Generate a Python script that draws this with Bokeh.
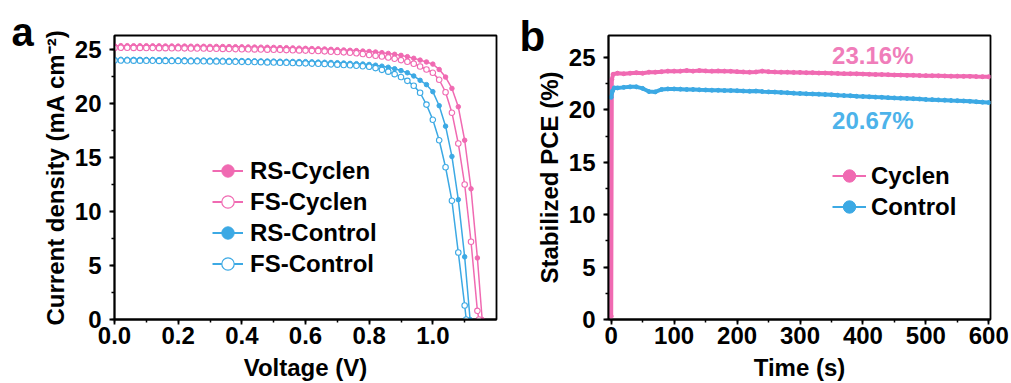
from bokeh.plotting import figure
from bokeh.models import (Range1d, SingleIntervalTicker, Label, Legend, LegendItem,
                          NumeralTickFormatter, Title)
from bokeh.layouts import row
from bokeh.embed import file_html
from bokeh.resources import INLINE

# ---------------- data: panel a (J-V curves) ----------------
v_rs_cyclen = [0.00, 0.02, 0.04, 0.06, 0.08, 0.10, 0.12, 0.14, 0.16, 0.18, 0.20, 0.22, 0.24, 0.26, 0.28,
               0.30, 0.32, 0.34, 0.36, 0.38, 0.40, 0.42, 0.44, 0.46, 0.48, 0.50, 0.52, 0.54, 0.56, 0.58,
               0.60, 0.62, 0.64, 0.66, 0.68, 0.70, 0.72, 0.74, 0.76, 0.78, 0.80, 0.82, 0.84, 0.86, 0.88,
               0.90, 0.92, 0.94, 0.96, 0.98, 1.00, 1.02, 1.04, 1.06, 1.08, 1.10, 1.12, 1.14, 1.155]
j_rs_cyclen = [25.35, 25.36, 25.36, 25.35, 25.35, 25.35, 25.34, 25.34, 25.33, 25.33, 25.32, 25.32, 25.31, 25.30, 25.30,
               25.29, 25.29, 25.28, 25.27, 25.26, 25.25, 25.24, 25.23, 25.22, 25.21, 25.20, 25.18, 25.17, 25.15, 25.13,
               25.11, 25.09, 25.07, 25.05, 25.02, 24.99, 24.96, 24.93, 24.90, 24.86, 24.82, 24.77, 24.71, 24.64, 24.56,
               24.46, 24.34, 24.19, 24.02, 23.85, 23.65, 23.15, 22.45, 21.40, 19.70, 16.60, 12.10, 5.70, 0.00]

v_fs_cyclen = [0.00, 0.02, 0.04, 0.06, 0.08, 0.10, 0.12, 0.14, 0.16, 0.18, 0.20, 0.22, 0.24, 0.26, 0.28,
               0.30, 0.32, 0.34, 0.36, 0.38, 0.40, 0.42, 0.44, 0.46, 0.48, 0.50, 0.52, 0.54, 0.56, 0.58,
               0.60, 0.62, 0.64, 0.66, 0.68, 0.70, 0.72, 0.74, 0.76, 0.78, 0.80, 0.82, 0.84, 0.86, 0.88,
               0.90, 0.92, 0.94, 0.96, 0.98, 1.00, 1.02, 1.04, 1.06, 1.08, 1.10, 1.12, 1.14, 1.145]
j_fs_cyclen = [25.15, 25.16, 25.16, 25.15, 25.15, 25.14, 25.14, 25.13, 25.13, 25.12, 25.12, 25.11, 25.10, 25.10, 25.09,
               25.08, 25.07, 25.06, 25.05, 25.04, 25.03, 25.02, 25.01, 25.00, 24.99, 24.98, 24.97, 24.95, 24.94, 24.92,
               24.90, 24.88, 24.86, 24.83, 24.80, 24.77, 24.74, 24.70, 24.65, 24.58, 24.50, 24.43, 24.35, 24.26, 24.15,
               24.02, 23.87, 23.68, 23.43, 23.15, 22.85, 22.20, 21.05, 19.15, 16.30, 12.50, 7.20, 0.80, 0.00]

v_rs_control = [0.00, 0.02, 0.04, 0.06, 0.08, 0.10, 0.12, 0.14, 0.16, 0.18, 0.20, 0.22, 0.24, 0.26, 0.28,
                0.30, 0.32, 0.34, 0.36, 0.38, 0.40, 0.42, 0.44, 0.46, 0.48, 0.50, 0.52, 0.54, 0.56, 0.58,
                0.60, 0.62, 0.64, 0.66, 0.68, 0.70, 0.72, 0.74, 0.76, 0.78, 0.80, 0.82, 0.84, 0.86, 0.88,
                0.90, 0.92, 0.94, 0.96, 0.98, 1.00, 1.02, 1.04, 1.06, 1.08, 1.10, 1.117]
j_rs_control = [24.10, 24.10, 24.10, 24.09, 24.09, 24.08, 24.08, 24.07, 24.07, 24.06, 24.06, 24.05, 24.04, 24.04, 24.03,
                24.02, 24.02, 24.01, 24.00, 23.99, 23.98, 23.97, 23.96, 23.95, 23.94, 23.93, 23.92, 23.91, 23.90, 23.89,
                23.88, 23.86, 23.84, 23.82, 23.80, 23.78, 23.75, 23.72, 23.69, 23.66, 23.62, 23.55, 23.46, 23.36, 23.22,
                23.05, 22.85, 22.55, 22.15, 21.75, 21.10, 19.80, 17.90, 15.10, 11.10, 5.80, 0.00]

v_fs_control = [0.00, 0.02, 0.04, 0.06, 0.08, 0.10, 0.12, 0.14, 0.16, 0.18, 0.20, 0.22, 0.24, 0.26, 0.28,
                0.30, 0.32, 0.34, 0.36, 0.38, 0.40, 0.42, 0.44, 0.46, 0.48, 0.50, 0.52, 0.54, 0.56, 0.58,
                0.60, 0.62, 0.64, 0.66, 0.68, 0.70, 0.72, 0.74, 0.76, 0.78, 0.80, 0.82, 0.84, 0.86, 0.88,
                0.90, 0.92, 0.94, 0.96, 0.98, 1.00, 1.02, 1.04, 1.06, 1.08, 1.10, 1.105]
j_fs_control = [23.98, 23.98, 23.98, 23.97, 23.97, 23.96, 23.96, 23.95, 23.95, 23.94, 23.94, 23.93, 23.92, 23.92, 23.91,
                23.90, 23.90, 23.89, 23.88, 23.87, 23.86, 23.85, 23.84, 23.83, 23.81, 23.80, 23.78, 23.77, 23.75, 23.74,
                23.72, 23.70, 23.68, 23.66, 23.63, 23.60, 23.57, 23.54, 23.50, 23.45, 23.40, 23.28, 23.12, 22.95, 22.72,
                22.45, 22.10, 21.65, 21.00, 19.90, 18.50, 16.60, 14.10, 11.00, 6.20, 1.30, 0.00]

labels_a = ["RS-Cyclen", "FS-Cyclen", "RS-Control", "FS-Control"]

# ---------------- data: panel b (stabilized PCE) ----------------
t_cyclen = [0, 1, 3, 10, 20, 30, 40, 50, 60, 70, 80, 90, 100, 110, 120, 130, 140, 150, 160, 170, 180, 190,
            200, 210, 220, 230, 240, 250, 260, 270, 280, 290, 300, 310, 320, 330, 340, 350, 360, 370, 380,
            390, 400, 410, 420, 430, 440, 450, 460, 470, 480, 490, 500, 510, 520, 530, 540, 550, 560, 570,
            580, 590, 600]
pce_cyclen = [0.3, 22.9, 23.4, 23.5, 23.45, 23.5, 23.55, 23.5, 23.6, 23.6, 23.65, 23.7, 23.7, 23.7, 23.75,
              23.7, 23.75, 23.72, 23.7, 23.72, 23.7, 23.68, 23.65, 23.62, 23.6, 23.62, 23.7, 23.65, 23.62,
              23.6, 23.6, 23.58, 23.58, 23.55, 23.55, 23.52, 23.52, 23.5, 23.48, 23.46, 23.45, 23.44, 23.42,
              23.4, 23.38, 23.37, 23.36, 23.33, 23.32, 23.3, 23.3, 23.28, 23.27, 23.26, 23.25, 23.24, 23.22,
              23.22, 23.2, 23.2, 23.18, 23.17, 23.16]

t_control = [0, 2, 5, 10, 20, 30, 40, 50, 60, 70, 80, 90, 100, 110, 120, 130, 140, 150, 160, 170, 180, 190,
             200, 210, 220, 230, 240, 250, 260, 270, 280, 290, 300, 310, 320, 330, 340, 350, 360, 370, 380,
             390, 400, 410, 420, 430, 440, 450, 460, 470, 480, 490, 500, 510, 520, 530, 540, 550, 560, 570,
             580, 590, 600]
pce_control = [21.2, 21.8, 22.1, 22.1, 22.15, 22.2, 22.2, 22.05, 21.75, 21.72, 21.95, 22.0, 22.0, 21.98, 21.95,
               21.95, 21.92, 21.9, 21.88, 21.87, 21.85, 21.84, 21.83, 21.8, 21.78, 21.8, 21.75, 21.72, 21.7,
               21.67, 21.64, 21.6, 21.57, 21.54, 21.52, 21.5, 21.47, 21.44, 21.4, 21.37, 21.35, 21.3, 21.28,
               21.25, 21.22, 21.2, 21.17, 21.14, 21.12, 21.1, 21.07, 21.04, 21.0, 20.98, 20.95, 20.93, 20.9,
               20.88, 20.85, 20.82, 20.78, 20.74, 20.7]

labels_b = ["Cyclen", "Control"]
final_labels = ["23.16%", "20.67%"]
panel_letters = ["a", "b"]

PINK = "#F06AB2"
BLUE = "#3CA9E4"
FONT = "Liberation Sans"


def style(p, xint, yint):
    p.xaxis[0].ticker = SingleIntervalTicker(interval=xint, num_minor_ticks=2)
    p.yaxis[0].ticker = SingleIntervalTicker(interval=yint, num_minor_ticks=2)
    for ax in (p.xaxis[0], p.yaxis[0]):
        ax.axis_line_width = 1.8
        ax.major_tick_line_width = 1.8
        ax.minor_tick_line_width = 1.5
        ax.major_tick_in = 0
        ax.major_tick_out = 5
        ax.minor_tick_in = 0
        ax.minor_tick_out = 3
        ax.major_label_text_font = FONT
        ax.major_label_text_font_style = "bold"
        ax.major_label_text_font_size = "24px"
        ax.major_label_text_color = "black"
        ax.axis_label_text_font = FONT
        ax.axis_label_text_font_style = "bold"
        ax.axis_label_text_font_size = "24px"
        ax.axis_label_text_color = "black"
    p.xaxis[0].major_label_standoff = 2
    p.xaxis[0].axis_label_standoff = 7
    p.yaxis[0].major_label_standoff = 8
    p.yaxis[0].axis_label_standoff = 3
    p.grid.visible = False
    p.outline_line_color = "black"
    p.outline_line_width = 1.8
    p.outline_line_alpha = 1.0


# ---------------- panel a ----------------
pa = figure(width=520, height=383, output_backend="svg", toolbar_location=None,
            x_range=Range1d(0, 1.2), y_range=Range1d(0, 26.3),
            min_border_left=114, min_border_right=24, min_border_top=35, min_border_bottom=61,
            x_axis_label="Voltage (V)", y_axis_label="Current density (mA cm\u207b\u00b2)")
style(pa, 0.2, 5)
pa.xaxis[0].formatter = NumeralTickFormatter(format="0.0")

items_a = []
series_a = [(v_rs_cyclen, j_rs_cyclen, PINK, True),
            (v_fs_cyclen, j_fs_cyclen, PINK, False),
            (v_rs_control, j_rs_control, BLUE, True),
            (v_fs_control, j_fs_control, BLUE, False)]
for (vx, jy, col, filled), lab in zip(series_a, labels_a):
    pa.line(vx, jy, line_color=col, line_width=1.5)
    if filled:
        pa.scatter(vx, jy, marker="circle", size=4.5, fill_color=col, line_color=col, line_width=1)
    else:
        pa.scatter(vx, jy, marker="circle", size=5.5, fill_color="white", line_color=col, line_width=1.1)
    # key-only glyphs (one point far outside the visible ranges, so only the legend shows them)
    lg_l = pa.line([-5, -4], [-5, -5], line_color=col, line_width=2)
    if filled:
        lg_s = pa.scatter([-5], [-5], marker="circle", size=4.5, fill_color=col, line_color=col)
    else:
        lg_s = pa.scatter([-5], [-5], marker="circle", size=5, fill_color="white", line_color=col, line_width=1.2)
    items_a.append(LegendItem(label=lab, renderers=[lg_l, lg_s]))

leg_a = Legend(items=items_a, location=(98, 40), border_line_color=None, background_fill_alpha=0,
               padding=0, spacing=0, margin=0, glyph_width=31, glyph_height=31, label_height=31,
               label_standoff=7, label_text_font=FONT, label_text_font_style="bold",
               label_text_font_size="24px", label_text_color="black")
pa.add_layout(leg_a)
pa.add_layout(Title(text=panel_letters[0], text_font=FONT, text_font_style="bold", text_font_size="40px",
                    text_color="black", align="left", offset=-103, standoff=-37), "above")

# ---------------- panel b ----------------
pb = figure(width=491, height=383, output_backend="svg", toolbar_location=None,
            x_range=Range1d(-4.3, 602.7), y_range=Range1d(0, 27.1),
            min_border_left=88, min_border_right=21, min_border_top=32, min_border_bottom=63,
            x_axis_label="Time (s)", y_axis_label="Stabilized PCE (%)")
style(pb, 100, 5)

items_b = []
for tx, py, col, lab in [(t_cyclen, pce_cyclen, PINK, labels_b[0]), (t_control, pce_control, BLUE, labels_b[1])]:
    pb.line(tx, py, line_color=col, line_width=4)
    pb.scatter(tx, py, marker="circle", size=4, fill_color=col, line_color=col)
    lg_l = pb.line([-900, -800], [-5, -5], line_color=col, line_width=2)
    lg_s = pb.scatter([-900], [-5], marker="circle", size=4, fill_color=col, line_color=col)
    items_b.append(LegendItem(label=lab, renderers=[lg_l, lg_s]))

leg_b = Legend(items=items_b, location=(224, 97), border_line_color=None, background_fill_alpha=0,
               padding=0, spacing=0, margin=0, glyph_width=34, glyph_height=31, label_height=31,
               label_standoff=5, label_text_font=FONT, label_text_font_style="bold",
               label_text_font_size="24px", label_text_color="black")
pb.add_layout(leg_b)

pb.add_layout(Label(x=351, y=25.2, text=final_labels[0], text_font=FONT, text_font_style="bold",
                    text_font_size="24px", text_color="#F07DBA", text_baseline="middle"))
pb.add_layout(Label(x=351, y=19.0, text=final_labels[1], text_font=FONT, text_font_style="bold",
                    text_font_size="24px", text_color="#4DB3EA", text_baseline="middle"))
pb.add_layout(Title(text=panel_letters[1], text_font=FONT, text_font_style="bold", text_font_size="42px",
                    text_color="black", align="left", offset=-89, standoff=-48), "above")

layout = row(pa, pb)
open("out.html", "w").write(file_html(layout, INLINE))
